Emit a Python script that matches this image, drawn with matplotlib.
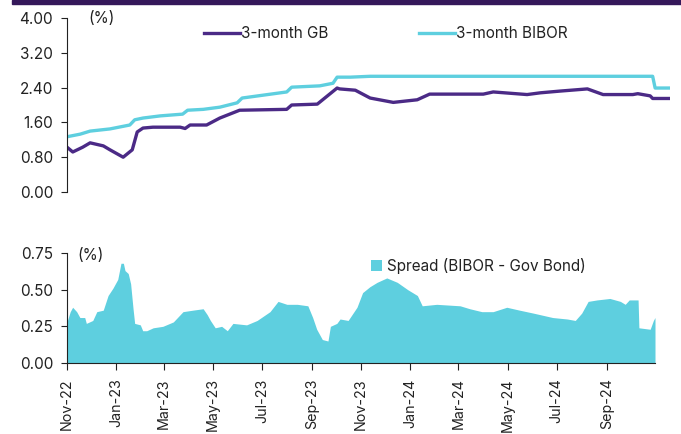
import pandas as pd
import numpy as np
import matplotlib.pyplot as plt
import matplotlib.dates as mdates
from matplotlib.patches import Rectangle

plt.rcParams['font.family'] = ['Inter', 'DejaVu Sans']

# 3-month gov bond yield (%)
gb_dates = ['2022-11-01', '2022-11-08', '2022-11-20', '2022-11-29', '2022-12-15', '2022-12-23',
            '2023-01-08', '2023-01-19', '2023-01-25', '2023-02-01', '2023-02-13', '2023-03-18',
            '2023-03-24', '2023-03-30', '2023-04-19', '2023-05-05', '2023-05-29', '2023-07-25',
            '2023-07-31', '2023-08-31', '2023-09-24', '2023-09-27', '2023-10-16', '2023-11-03',
            '2023-12-01', '2023-12-30', '2024-01-14', '2024-03-19', '2024-03-31', '2024-05-11',
            '2024-05-27', '2024-06-20', '2024-07-23', '2024-08-11', '2024-09-16', '2024-09-22',
            '2024-10-07', '2024-10-10', '2024-10-31']
gb_vals = [1.03, 0.92, 1.03, 1.13, 1.06, 0.97,
           0.80, 0.97, 1.38, 1.47, 1.49, 1.49,
           1.46, 1.54, 1.54, 1.70, 1.88, 1.90,
           2.00, 2.02, 2.39, 2.37, 2.34, 2.16,
           2.06, 2.12, 2.25, 2.25, 2.30, 2.24,
           2.28, 2.32, 2.37, 2.24, 2.24, 2.26,
           2.21, 2.15, 2.15]

# 3-month BIBOR (%)
bibor_dates = ['2022-11-01', '2022-11-17', '2022-11-29', '2022-12-23', '2023-01-16', '2023-01-22',
               '2023-02-01', '2023-02-22', '2023-03-21', '2023-03-27', '2023-04-15', '2023-05-05',
               '2023-05-26', '2023-06-01', '2023-07-25', '2023-07-31', '2023-09-03', '2023-09-19',
               '2023-09-24', '2023-10-10', '2023-11-03', '2024-10-10', '2024-10-13', '2024-10-31']
bibor_vals = [1.27, 1.33, 1.40, 1.45, 1.54, 1.66,
              1.70, 1.75, 1.79, 1.88, 1.90, 1.95,
              2.05, 2.16, 2.30, 2.41, 2.44, 2.50,
              2.64, 2.64, 2.66, 2.66, 2.39, 2.39]

# spread BIBOR - gov bond (%)
spread_dates = ['2022-11-01', '2022-11-05', '2022-11-08', '2022-11-13', '2022-11-17', '2022-11-23',
                '2022-11-25', '2022-12-03', '2022-12-08', '2022-12-16', '2022-12-22', '2022-12-28',
                '2023-01-03', '2023-01-07', '2023-01-10', '2023-01-12', '2023-01-16', '2023-01-19',
                '2023-01-22', '2023-01-24', '2023-01-31', '2023-02-03', '2023-02-08', '2023-02-16',
                '2023-02-28', '2023-03-13', '2023-03-25', '2023-04-06', '2023-04-19', '2023-04-24',
                '2023-04-28', '2023-05-04', '2023-05-12', '2023-05-19', '2023-05-26', '2023-06-12',
                '2023-06-25', '2023-07-11', '2023-07-21', '2023-08-01', '2023-08-14', '2023-08-27',
                '2023-09-02', '2023-09-07', '2023-09-14', '2023-09-21', '2023-09-24', '2023-10-02',
                '2023-10-06', '2023-10-16', '2023-10-27', '2023-11-03', '2023-11-12', '2023-11-21',
                '2023-12-03', '2023-12-16', '2023-12-29', '2024-01-10', '2024-01-16', '2024-02-03',
                '2024-03-03', '2024-03-15', '2024-03-30', '2024-04-13', '2024-04-30', '2024-05-16',
                '2024-06-02', '2024-06-26', '2024-07-14', '2024-07-24', '2024-08-01', '2024-08-09',
                '2024-08-20', '2024-09-05', '2024-09-18', '2024-09-24', '2024-09-29', '2024-10-10',
                '2024-10-11', '2024-10-25', '2024-10-29', '2024-10-31']
spread_vals = [0.28, 0.35, 0.38, 0.35, 0.31, 0.31,
               0.27, 0.29, 0.35, 0.36, 0.46, 0.51,
               0.57, 0.68, 0.68, 0.63, 0.61, 0.54,
               0.37, 0.27, 0.26, 0.22, 0.22, 0.24,
               0.25, 0.28, 0.35, 0.36, 0.37, 0.33,
               0.29, 0.24, 0.25, 0.22, 0.27, 0.26,
               0.29, 0.35, 0.42, 0.40, 0.40, 0.39,
               0.31, 0.23, 0.16, 0.15, 0.25, 0.27,
               0.30, 0.29, 0.38, 0.48, 0.52, 0.55,
               0.58, 0.55, 0.50, 0.46, 0.39, 0.40,
               0.39, 0.37, 0.35, 0.35, 0.38, 0.36,
               0.34, 0.31, 0.30, 0.29, 0.34, 0.42,
               0.43, 0.44, 0.42, 0.40, 0.43, 0.43,
               0.24, 0.23, 0.29, 0.31]

start, end = pd.Timestamp('2022-11-01'), pd.Timestamp('2024-10-31')
purple = '#4b2a86'
cyan = '#5ecfdf'
txt = '#222222'
fs = 11

fig = plt.figure(figsize=(6.81, 4.34), dpi=100)
fig.patches.append(Rectangle((12/681, 1-4/434), 1, 4/434, transform=fig.transFigure,
                             color='#35185a', zorder=0))

#top panel: yields
ax1 = fig.add_axes([67/681, 1-192/434, 603/681, 174/434])
ax1.plot(pd.to_datetime(gb_dates), gb_vals, color=purple, lw=2.4, label='3-month GB')
ax1.plot(pd.to_datetime(bibor_dates), bibor_vals, color=cyan, lw=2.4, label='3-month BIBOR')
ax1.set_xlim(start, end)
ax1.set_ylim(0, 4)
ax1.set_yticks(np.arange(0, 4.01, 0.8))
ax1.yaxis.set_major_formatter(plt.FormatStrFormatter('%.2f'))
for s in ['top', 'right', 'bottom']:
    ax1.spines[s].set_visible(False)
ax1.spines['left'].set_color('#222222')
ax1.tick_params(axis='y', labelsize=fs, length=4, pad=6, colors='#222222', labelcolor=txt)
ax1.set_xticks([])
ax1.text(0.035, 1.0, '(%)', transform=ax1.transAxes, fontsize=fs, color=txt, va='center')
ax1.legend(loc='center left', bbox_to_anchor=(196/681, 1-34/434), bbox_transform=fig.transFigure,
           ncol=2, frameon=False, fontsize=fs, handlelength=2.4, handletextpad=0.05,
           columnspacing=5.9, borderpad=0, labelcolor=txt)

#bottom panel: spread
ax2 = fig.add_axes([67/681, 1-363/434, 588/681, 110/434])
ax2.fill_between(pd.to_datetime(spread_dates), spread_vals, 0, color=cyan, lw=0,
                 label='Spread (BIBOR - Gov Bond)')
ax2.set_xlim(start, end)
ax2.set_ylim(0, 0.75)
ax2.set_yticks([0, 0.25, 0.5, 0.75])
ax2.yaxis.set_major_formatter(plt.FormatStrFormatter('%.2f'))
ax2.spines['top'].set_visible(False)
ax2.spines['right'].set_visible(False)
ax2.spines['left'].set_color('#222222')
ax2.spines['bottom'].set_color('#222222')
ax2.xaxis.set_major_locator(mdates.MonthLocator(bymonth=[1, 3, 5, 7, 9, 11]))
ax2.xaxis.set_major_formatter(mdates.DateFormatter('%b-%y'))
ax2.tick_params(axis='y', labelsize=fs, length=4, pad=6, colors='#222222', labelcolor=txt)
ax2.tick_params(axis='x', labelsize=10.3, length=5, pad=6, colors='#222222', labelcolor=txt,
                labelrotation=90)
ax2.text(0.017, 0.98, '(%)', transform=ax2.transAxes, fontsize=fs, color=txt, va='center')
ax2.legend(loc='center left', bbox_to_anchor=(363/681, 1-266/434), bbox_transform=fig.transFigure,
           frameon=False, fontsize=fs, handlelength=0.75, handleheight=0.75, handletextpad=0.3,
           borderpad=0, labelcolor=txt)

plt.savefig('out.png', dpi=100)
